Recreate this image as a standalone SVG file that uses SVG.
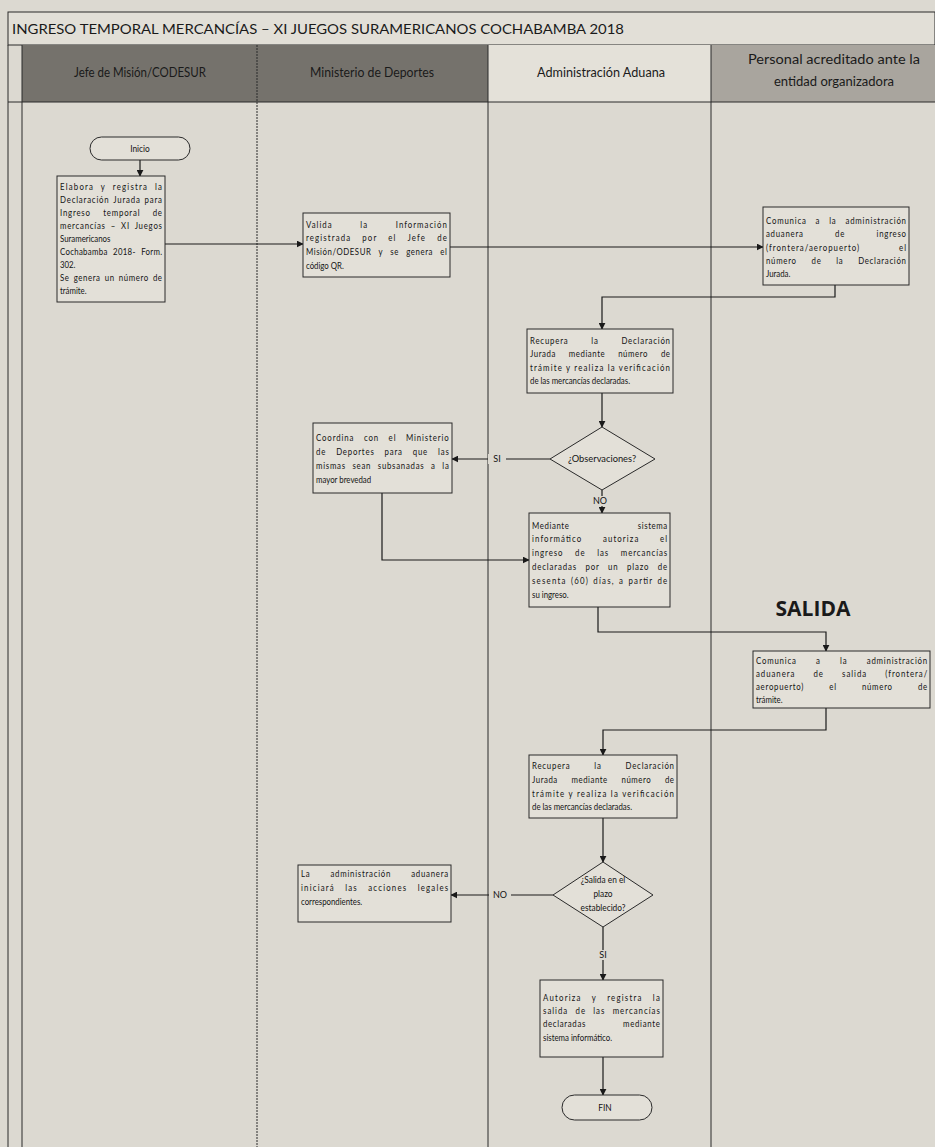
<svg xmlns="http://www.w3.org/2000/svg" width="935" height="1147" viewBox="0 0 935 1147">
<defs>
<marker id="ah" viewBox="0 0 10 10" refX="9" refY="5" markerWidth="7" markerHeight="7" orient="auto" markerUnits="userSpaceOnUse">
<path d="M0,0 L10,5 L0,10 z" fill="#1a1a1a"/>
</marker>
</defs>
<style>
.bg{fill:#dcd9d1}
.lane{stroke:#2a2a2a;stroke-width:1;fill:none}
.hd{fill:#75726c}
.hm{fill:#a9a59e}
.hl{fill:#e4e1d9}
.ht{font-family:Lato,"Liberation Sans",sans-serif;font-size:13.5px;fill:#1a1a1a;text-anchor:middle}
.title{font-family:Lato,"Liberation Sans",sans-serif;font-size:14px;fill:#1a1a1a}
.box{fill:#e3e0d8;stroke:#2a2a2a;stroke-width:1}
.t{font-family:Lato,"Liberation Sans",sans-serif;font-size:9.8px;fill:#141414}
.tc{font-family:Lato,"Liberation Sans",sans-serif;font-size:9.8px;fill:#141414;text-anchor:middle}
.lbl{font-family:Lato,"Liberation Sans",sans-serif;font-size:9px;fill:#141414;text-anchor:middle}
.ca{stroke:#1a1a1a;stroke-width:1.2;fill:none;marker-end:url(#ah)}
.salida{font-family:"Open Sans","Liberation Sans",sans-serif;font-size:21px;font-weight:bold;fill:#1a1a1a;text-anchor:middle}
</style>
<rect class="bg" x="0" y="0" width="935" height="1147"/>

<g id="frame">
<rect x="8" y="12" width="927" height="33" fill="#e2dfd7" stroke="#2a2a2a" stroke-width="1"/>
<text class="title" x="12" y="34" textLength="612" lengthAdjust="spacingAndGlyphs">INGRESO TEMPORAL MERCANCÍAS – XI JUEGOS SURAMERICANOS COCHABAMBA 2018</text>
<rect class="hd" x="22" y="45" width="235" height="57"/>
<rect class="hd" x="257" y="45" width="231" height="57"/>
<rect class="hl" x="488" y="45" width="223" height="57"/>
<rect class="hm" x="711" y="45" width="224" height="57"/>
<line class="lane" x1="8" y1="45" x2="8" y2="1147"/>
<line class="lane" x1="22" y1="45" x2="22" y2="1147"/>
<line class="lane" x1="257" y1="45" x2="257" y2="1147" stroke-dasharray="2 1"/>
<line class="lane" x1="488" y1="45" x2="488" y2="1147"/>
<line class="lane" x1="711" y1="45" x2="711" y2="1147"/>
<line class="lane" x1="8" y1="102" x2="935" y2="102"/>
<text class="ht" x="140" y="77" textLength="132" lengthAdjust="spacingAndGlyphs">Jefe de Misión/CODESUR</text>
<text class="ht" x="372" y="77" textLength="124" lengthAdjust="spacingAndGlyphs">Ministerio de Deportes</text>
<text class="ht" x="601" y="77" textLength="128" lengthAdjust="spacingAndGlyphs">Administración Aduana</text>
<text class="ht" x="834" y="64" textLength="172" lengthAdjust="spacingAndGlyphs">Personal acreditado ante la</text>
<text class="ht" x="834" y="86" textLength="120" lengthAdjust="spacingAndGlyphs">entidad organizadora</text>
</g>

<g id="connectors">
<line class="ca" x1="140" y1="160" x2="140" y2="176"/>
<line class="ca" x1="165" y1="244" x2="303" y2="244"/>
<line class="ca" x1="450" y1="247" x2="763" y2="247"/>
<polyline class="ca" points="835,285 835,297 602,297 602,329"/>
<line class="ca" x1="602" y1="393" x2="602" y2="427"/>
<line class="ca" x1="550" y1="459" x2="452" y2="459"/>
<line class="ca" x1="602" y1="490" x2="602" y2="513"/>
<polyline class="ca" points="382,493 382,560 529,560"/>
<polyline class="ca" points="598,607 598,632 826,632 826,651"/>
<polyline class="ca" points="826,708 826,730 603,730 603,755"/>
<line class="ca" x1="603" y1="818" x2="603" y2="862"/>
<line class="ca" x1="553" y1="895" x2="451" y2="895"/>
<line class="ca" x1="603" y1="927" x2="603" y2="980"/>
<line class="ca" x1="603" y1="1057" x2="603" y2="1095"/>
<rect x="488" y="454" width="18" height="10" class="bg"/>
<text class="lbl" x="497" y="462">SI</text>
<rect x="591" y="496" width="18" height="10" class="bg"/>
<text class="lbl" x="600" y="504">NO</text>
<rect x="489" y="890" width="22" height="10" class="bg"/>
<text class="lbl" x="500" y="898">NO</text>
<rect x="595" y="950" width="16" height="10" class="bg"/>
<text class="lbl" x="603" y="958">SI</text>
</g>

<g id="inicio">
<rect class="box" x="90" y="137" width="100" height="23" rx="11.5"/>
<text class="tc" transform="matrix(.85 0 0 1 140 152)">Inicio</text>
</g>

<g id="elabora">
<rect class="box" x="57" y="176" width="108" height="126"/>
<text class="t" transform="matrix(.8 0 0 1 60 190)" textLength="127.5" lengthAdjust="spacing" word-spacing="4.6">Elabora y registra la</text>
<text class="t" transform="matrix(.8 0 0 1 60 203)" textLength="127.5" lengthAdjust="spacing" word-spacing="1.4">Declaración Jurada para</text>
<text class="t" transform="matrix(.8 0 0 1 60 216)" textLength="127.5" lengthAdjust="spacing" word-spacing="12">Ingreso temporal de</text>
<text class="t" transform="matrix(.8 0 0 1 60 229)" textLength="127.5" lengthAdjust="spacing" word-spacing="2.8">mercancías – XI Juegos</text>
<text class="t" transform="matrix(.8 0 0 1 60 242)">Suramericanos</text>
<text class="t" transform="matrix(.8 0 0 1 60 255)" textLength="127.5" lengthAdjust="spacing" word-spacing="4">Cochabamba 2018- Form.</text>
<text class="t" transform="matrix(.8 0 0 1 60 268)">302.</text>
<text class="t" transform="matrix(.8 0 0 1 60 281)" textLength="127.5" lengthAdjust="spacing" word-spacing="2">Se genera un número de</text>
<text class="t" transform="matrix(.8 0 0 1 60 294)">trámite.</text>
</g>

<g id="valida">
<rect class="box" x="303" y="213" width="147" height="64"/>
<text class="t" transform="matrix(.8 0 0 1 306 228)" textLength="176" lengthAdjust="spacing" word-spacing="31">Valida la Información</text>
<text class="t" transform="matrix(.8 0 0 1 306 241)" textLength="176" lengthAdjust="spacing" word-spacing="10">registrada por el Jefe de</text>
<text class="t" transform="matrix(.8 0 0 1 306 255)" textLength="176" lengthAdjust="spacing" word-spacing="6">Misión/ODESUR y se genera el</text>
<text class="t" transform="matrix(.8 0 0 1 306 269)">código QR.</text>
</g>

<g id="comunica1">
<rect class="box" x="763" y="207" width="146" height="78"/>
<text class="t" transform="matrix(.8 0 0 1 766 224)" textLength="175" lengthAdjust="spacing" word-spacing="7.7">Comunica a la administración</text>
<text class="t" transform="matrix(.8 0 0 1 766 237)" textLength="175" lengthAdjust="spacing" word-spacing="36">aduanera de ingreso</text>
<text class="t" transform="matrix(.8 0 0 1 766 251)" textLength="175" lengthAdjust="spacing" word-spacing="45">(frontera/aeropuerto) el</text>
<text class="t" transform="matrix(.8 0 0 1 766 264)" textLength="175" lengthAdjust="spacing" word-spacing="15">número de la Declaración</text>
<text class="t" transform="matrix(.8 0 0 1 766 277)">Jurada.</text>
</g>

<g id="recupera1">
<rect class="box" x="527" y="329" width="146" height="64"/>
<text class="t" transform="matrix(.8 0 0 1 530 344)" textLength="175" lengthAdjust="spacing" word-spacing="25">Recupera la Declaración</text>
<text class="t" transform="matrix(.8 0 0 1 530 357)" textLength="175" lengthAdjust="spacing" word-spacing="13">Jurada mediante número de</text>
<text class="t" transform="matrix(.8 0 0 1 530 371)" textLength="175" lengthAdjust="spacing">trámite y realiza la verificación</text>
<text class="t" transform="matrix(.8 0 0 1 530 384)">de las mercancías declaradas.</text>
</g>

<g id="observaciones">
<polygon class="box" points="602,427 655,459 602,490 550,459"/>
<text class="tc" transform="matrix(.95 0 0 1 602 462)">¿Observaciones?</text>
</g>

<g id="coordina">
<rect class="box" x="313" y="423" width="139" height="70"/>
<text class="t" transform="matrix(.8 0 0 1 316 441)" textLength="166" lengthAdjust="spacing" word-spacing="8.3">Coordina con el Ministerio</text>
<text class="t" transform="matrix(.8 0 0 1 316 455)" textLength="166" lengthAdjust="spacing" word-spacing="9">de Deportes para que las</text>
<text class="t" transform="matrix(.8 0 0 1 316 469)" textLength="166" lengthAdjust="spacing" word-spacing="4.9">mismas sean subsanadas a la</text>
<text class="t" transform="matrix(.8 0 0 1 316 483)">mayor brevedad</text>
</g>

<g id="mediante">
<rect class="box" x="529" y="513" width="141" height="94"/>
<text class="t" transform="matrix(.8 0 0 1 532 529)" textLength="169" lengthAdjust="spacing" word-spacing="82">Mediante sistema</text>
<text class="t" transform="matrix(.8 0 0 1 532 542)" textLength="169" lengthAdjust="spacing" word-spacing="22">informático autoriza el</text>
<text class="t" transform="matrix(.8 0 0 1 532 556)" textLength="169" lengthAdjust="spacing" word-spacing="11">ingreso de las mercancías</text>
<text class="t" transform="matrix(.8 0 0 1 532 570)" textLength="169" lengthAdjust="spacing" word-spacing="7">declaradas por un plazo de</text>
<text class="t" transform="matrix(.8 0 0 1 532 584)" textLength="169" lengthAdjust="spacing" word-spacing="1.3">sesenta (60) días, a partir de</text>
<text class="t" transform="matrix(.8 0 0 1 532 598)">su ingreso.</text>
</g>

<g id="salida">
<text class="salida" x="813" y="616">SALIDA</text>
</g>

<g id="comunica2">
<rect class="box" x="753" y="651" width="177" height="57"/>
<text class="t" transform="matrix(.8 0 0 1 756 664)" textLength="214" lengthAdjust="spacing" word-spacing="20.7">Comunica a la administración</text>
<text class="t" transform="matrix(.8 0 0 1 756 677)" textLength="214" lengthAdjust="spacing" word-spacing="19">aduanera de salida (frontera/</text>
<text class="t" transform="matrix(.8 0 0 1 756 690)" textLength="214" lengthAdjust="spacing" word-spacing="28">aeropuerto) el número de</text>
<text class="t" transform="matrix(.8 0 0 1 756 703)">trámite.</text>
</g>

<g id="recupera2">
<rect class="box" x="529" y="755" width="148" height="63"/>
<text class="t" transform="matrix(.8 0 0 1 532 769)" textLength="177.5" lengthAdjust="spacing" word-spacing="26.4">Recupera la Declaración</text>
<text class="t" transform="matrix(.8 0 0 1 532 783)" textLength="177.5" lengthAdjust="spacing" word-spacing="14">Jurada mediante número de</text>
<text class="t" transform="matrix(.8 0 0 1 532 797)" textLength="177.5" lengthAdjust="spacing">trámite y realiza la verificación</text>
<text class="t" transform="matrix(.8 0 0 1 532 810)">de las mercancías declaradas.</text>
</g>

<g id="salida-plazo">
<polygon class="box" points="603,862 653,895 603,927 553,895"/>
<text class="tc" transform="matrix(.85 0 0 1 603 883)">¿Salida en el</text>
<text class="tc" transform="matrix(.85 0 0 1 603 897)">plazo</text>
<text class="tc" transform="matrix(.85 0 0 1 603 911)">establecido?</text>
</g>

<g id="acciones">
<rect class="box" x="298" y="865" width="153" height="57"/>
<text class="t" transform="matrix(.8 0 0 1 301 877)" textLength="184" lengthAdjust="spacing" word-spacing="21.5">La administración aduanera</text>
<text class="t" transform="matrix(.8 0 0 1 301 891)" textLength="184" lengthAdjust="spacing" word-spacing="8.9">iniciará las acciones legales</text>
<text class="t" transform="matrix(.8 0 0 1 301 905)">correspondientes.</text>
</g>

<g id="autoriza">
<rect class="box" x="540" y="980" width="123" height="77"/>
<text class="t" transform="matrix(.8 0 0 1 543 1001)" textLength="146" lengthAdjust="spacing" word-spacing="8.9">Autoriza y registra la</text>
<text class="t" transform="matrix(.8 0 0 1 543 1014)" textLength="146" lengthAdjust="spacing" word-spacing="5.3">salida de las mercancías</text>
<text class="t" transform="matrix(.8 0 0 1 543 1027)" textLength="146" lengthAdjust="spacing" word-spacing="43">declaradas mediante</text>
<text class="t" transform="matrix(.8 0 0 1 543 1041)">sistema informático.</text>
</g>

<g id="fin">
<rect class="box" x="562" y="1095" width="90" height="25" rx="12.5"/>
<text class="tc" transform="matrix(.85 0 0 1 605 1111)">FIN</text>
</g>
</svg>
